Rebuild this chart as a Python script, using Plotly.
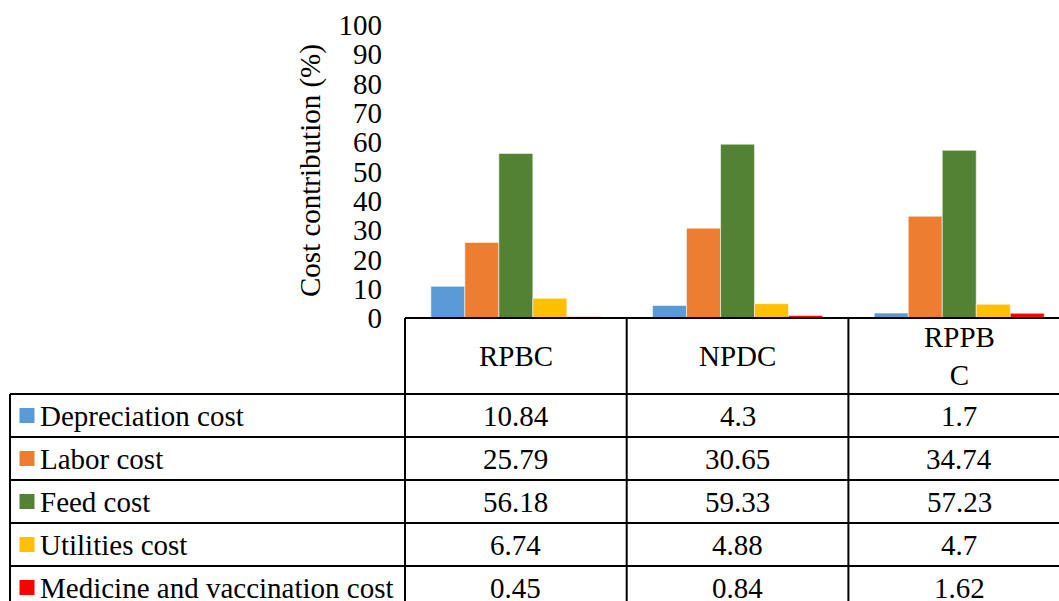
import plotly.graph_objects as go

# Cost structure by production system (% of total cost)
categories = ["RPBC", "NPDC", "RPPBC"]
header_labels = ["RPBC", "NPDC", "RPPB<br>C"]
series_names = [
    "Depreciation cost",
    "Labor cost",
    "Feed cost",
    "Utilities cost",
    "Medicine and vaccination cost",
]
series_colors = ["#5B9BD5", "#ED7D31", "#548235", "#FFC000", "#FF0000"]
depreciation = [10.84, 4.3, 1.7]
labor = [25.79, 30.65, 34.74]
feed = [56.18, 59.33, 57.23]
utilities = [6.74, 4.88, 4.7]
medicine = [0.45, 0.84, 1.62]
y_ticks = list(range(0, 101, 10))

series_values = [depreciation, labor, feed, utilities, medicine]

W, H = 1059, 601
FONT = "Liberation Serif"
FS = 29
LINE = dict(color="black", width=2)

# page layout (pixels)
plot_left, plot_top, plot_bottom = 405, 25, 318
col_w = 221.7          # width of one category column of the table
legend_col_w = 395     # width of the legend column of the table
header_h_px, row_h_px = 76, 43

# table coordinate system: x in category columns (0 = left edge of first category),
# y in data rows counted downward from the top of the header
x2_min = -plot_left / col_w
x2_max = (W - plot_left) / col_w
leg_left = -legend_col_w / col_w
hh = header_h_px / row_h_px
y2_pad = 3 / row_h_px
y2_max = (H - plot_bottom) / row_h_px

fig = go.Figure()

for name, color, vals in zip(series_names, series_colors, series_values):
    fig.add_trace(
        go.Bar(
            x=categories,
            y=vals,
            name=name,
            marker=dict(color=color, line=dict(color="rgba(255,255,255,0.55)", width=1)),
            showlegend=False,
            xaxis="x",
            yaxis="y",
        )
    )

# legend keys in the table's first column
n_rows = len(series_names)
row_centers = [hh + k + 0.5 for k in range(n_rows)]
fig.add_trace(
    go.Scatter(
        x=[(27 - plot_left) / col_w] * n_rows,
        y=row_centers,
        mode="markers",
        marker=dict(symbol="square", size=15, color=series_colors, line=dict(width=0)),
        showlegend=False,
        hoverinfo="skip",
        xaxis="x2",
        yaxis="y2",
    )
)

shapes = []
# horizontal rules
shapes.append(dict(type="line", xref="x2", yref="y2", x0=0, x1=x2_max + 1, y0=0, y1=0, line=LINE))
for k in range(n_rows + 1):
    yk = hh + k
    shapes.append(dict(type="line", xref="x2", yref="y2", x0=leg_left, x1=x2_max + 1, y0=yk, y1=yk, line=LINE))
# vertical rules
shapes.append(dict(type="line", xref="x2", yref="y2", x0=leg_left, x1=leg_left, y0=hh, y1=y2_max + 1, line=LINE))
for i in range(len(categories) + 1):
    shapes.append(dict(type="line", xref="x2", yref="y2", x0=i, x1=i, y0=0, y1=y2_max + 1, line=LINE))

annotations = []
# y-axis title
annotations.append(
    dict(
        text="Cost contribution (%)",
        textangle=-90,
        xref="paper",
        yref="paper",
        x=311 / W,
        y=1 - 171 / H,
        xanchor="center",
        yanchor="middle",
        showarrow=False,
        font=dict(family=FONT, size=FS, color="black"),
    )
)
# header row
for i, lab in enumerate(header_labels):
    annotations.append(
        dict(text=lab, xref="x2", yref="y2", x=i + 0.5, y=hh / 2, xanchor="center",
             yanchor="middle", showarrow=False, font=dict(family=FONT, size=FS, color="black"))
    )
# series rows
for k, (name, vals) in enumerate(zip(series_names, series_values)):
    annotations.append(
        dict(text=name, xref="x2", yref="y2", x=(38 - plot_left) / col_w, y=row_centers[k],
             xanchor="left", yanchor="middle", showarrow=False,
             font=dict(family=FONT, size=FS, color="black"))
    )
    for i, v in enumerate(vals):
        annotations.append(
            dict(text=str(v), xref="x2", yref="y2", x=i + 0.5, y=row_centers[k],
                 xanchor="center", yanchor="middle", showarrow=False,
                 font=dict(family=FONT, size=FS, color="black"))
        )

fig.update_layout(
    width=W,
    height=H,
    margin=dict(l=0, r=0, t=0, b=0, autoexpand=False),
    paper_bgcolor="white",
    plot_bgcolor="rgba(0,0,0,0)",
    barmode="group",
    bargap=0.233,
    bargroupgap=0,
    font=dict(family=FONT, size=FS, color="black"),
    xaxis=dict(
        domain=[plot_left / W, 1],
        range=[-0.5, (W - plot_left) / col_w - 0.5],
        showticklabels=False,
        showline=False,
        showgrid=False,
        zeroline=False,
        ticks="",
        automargin=False,
        fixedrange=True,
    ),
    yaxis=dict(
        domain=[1 - plot_bottom / H, 1 - plot_top / H],
        range=[0, 100],
        tickvals=y_ticks,
        showgrid=False,
        showline=False,
        zeroline=False,
        ticks="",
        ticklabelstandoff=22,
        automargin=False,
        fixedrange=True,
        tickfont=dict(family=FONT, size=FS, color="black"),
    ),
    xaxis2=dict(
        domain=[0, 1],
        range=[x2_min, x2_max],
        visible=False,
        anchor="y2",
        fixedrange=True,
    ),
    yaxis2=dict(
        domain=[0, 1 - (plot_bottom - 3) / H],
        range=[y2_max, -y2_pad],
        visible=False,
        anchor="x2",
        fixedrange=True,
    ),
    shapes=shapes,
    annotations=annotations,
)

fig.write_html("out.html")
